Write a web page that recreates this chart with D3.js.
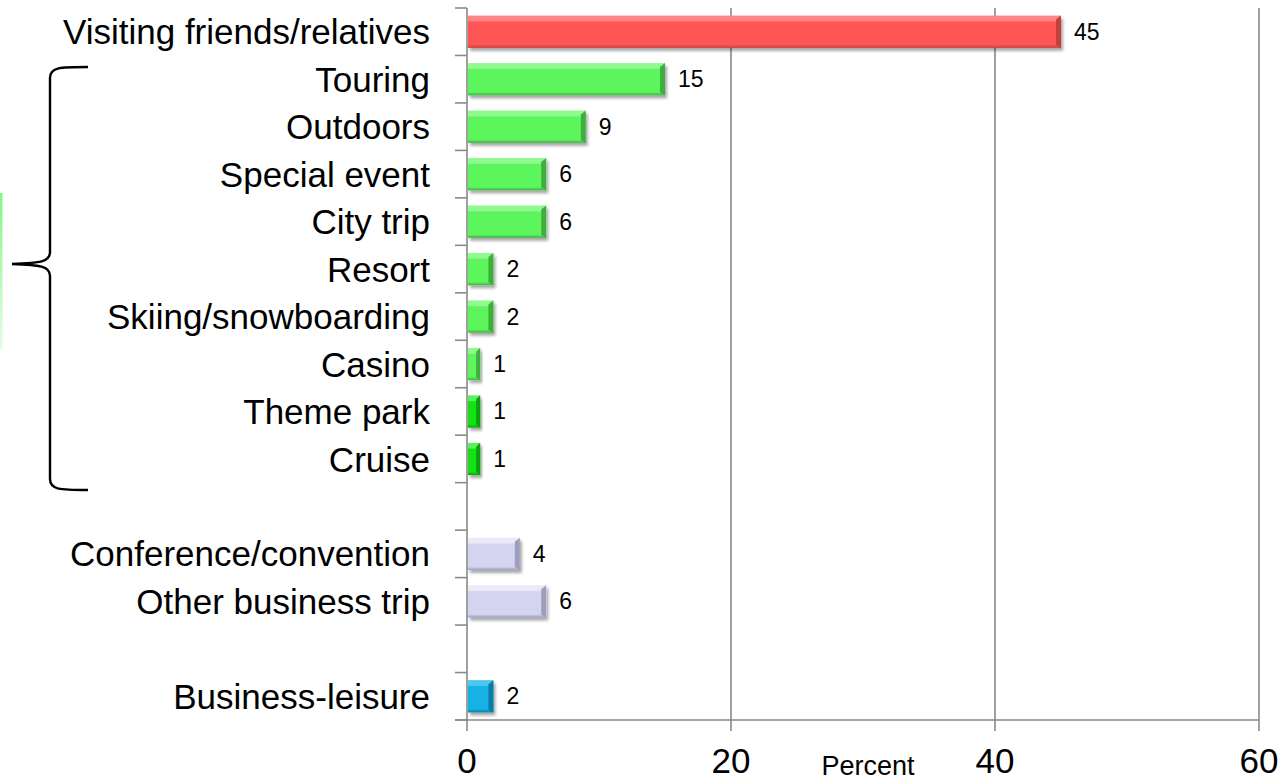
<!DOCTYPE html>
<html>
<head>
<meta charset="utf-8">
<script src="https://cdn.jsdelivr.net/npm/d3@7"></script>
<style>
  html, body { margin: 0; padding: 0; background: #fff; }
  svg { display: block; font-family: "Liberation Sans", Arial, sans-serif; }
</style>
</head>
<body>
<svg id="chart" width="1284" height="781"></svg>
<script>
// Trip purpose shares (percent); empty rows separate the groups
const categories = [
  "Visiting friends/relatives", "Touring", "Outdoors", "Special event", "City trip",
  "Resort", "Skiing/snowboarding", "Casino", "Theme park", "Cruise",
  "", "Conference/convention", "Other business trip", "", "Business-leisure"
];
const values = [45, 15, 9, 6, 6, 2, 2, 1, 1, 1, null, 4, 6, null, 2];
const groups = [
  "vfr", "leisure", "leisure", "leisure", "leisure",
  "leisure", "leisure", "leisure", "leisureBright", "leisureBright",
  null, "business", "business", null, "mixed"
];
const xTicks = [0, 20, 40, 60];
const xTitle = "Percent";

// Fill, top highlight and end-bevel shades for each group
const palette = {
  vfr:           { base: "#ff5555", light: "#ff8686", dark: "#c43e3e" },
  leisure:       { base: "#5cf65c", light: "#8ffa8f", dark: "#3fae3f" },
  leisureBright: { base: "#14e014", light: "#5cf05c", dark: "#0c9e0c" },
  business:      { base: "#d4d4f0", light: "#eaeaf9", dark: "#9d9dbd" },
  mixed:         { base: "#12b2e6", light: "#4cc8f0", dark: "#0b7ca4" }
};

const svg = d3.select("#chart");
const axisColor = "#8a8a8a";

const x = d3.scaleLinear().domain([0, 60]).range([467, 1259]);
const y = d3.scaleBand().domain(d3.range(categories.length)).range([8, 720])
  .paddingInner(0.32).paddingOuter(0.16);
const step = y.step();
const rowTop = i => 8 + i * step;
const rowMid = i => rowTop(i) + step / 2;

const defs = svg.append("defs");
const shadow = defs.append("filter").attr("id", "barShadow")
  .attr("x", "-10%").attr("y", "-30%").attr("width", "130%").attr("height", "180%");
shadow.append("feGaussianBlur").attr("in", "SourceAlpha").attr("stdDeviation", 1.8).attr("result", "b");
shadow.append("feOffset").attr("in", "b").attr("dx", 2).attr("dy", 3).attr("result", "o");
shadow.append("feComponentTransfer").attr("in", "o").attr("result", "s")
  .append("feFuncA").attr("type", "linear").attr("slope", 0.35);
const merge = shadow.append("feMerge");
merge.append("feMergeNode").attr("in", "s");
merge.append("feMergeNode").attr("in", "SourceGraphic");

Object.entries(palette).forEach(([key, c]) => {
  const g = defs.append("linearGradient").attr("id", "grad-" + key)
    .attr("x1", 0).attr("y1", 0).attr("x2", 0).attr("y2", 1);
  g.append("stop").attr("offset", "0%").attr("stop-color", c.light);
  g.append("stop").attr("offset", "16%").attr("stop-color", c.light);
  g.append("stop").attr("offset", "20%").attr("stop-color", c.base);
  g.append("stop").attr("offset", "90%").attr("stop-color", c.base);
  g.append("stop").attr("offset", "100%").attr("stop-color", c.dark);
});

// Green side strip
const strip = defs.append("linearGradient").attr("id", "stripGrad")
  .attr("x1", 0).attr("y1", 0).attr("x2", 0).attr("y2", 1);
strip.append("stop").attr("offset", "0%").attr("stop-color", "#86f586");
strip.append("stop").attr("offset", "100%").attr("stop-color", "#e6fbe6");
svg.append("rect").attr("x", 0).attr("y", 193).attr("width", 2.5).attr("height", 156)
  .attr("fill", "url(#stripGrad)");

// Gridlines and x axis
const grid = svg.append("g");
xTicks.filter(t => t > 0).forEach(t => {
  grid.append("line").attr("x1", x(t)).attr("x2", x(t)).attr("y1", 8).attr("y2", 731)
    .attr("stroke", axisColor).attr("stroke-width", 1.6);
});
grid.append("line").attr("x1", 455).attr("x2", x(60)).attr("y1", 720).attr("y2", 720)
  .attr("stroke", axisColor).attr("stroke-width", 1.6);
grid.append("line").attr("x1", x(0)).attr("x2", x(0)).attr("y1", 8).attr("y2", 731)
  .attr("stroke", axisColor).attr("stroke-width", 1.6);
// Row boundary ticks on the category axis
d3.range(categories.length + 1).forEach(i => {
  grid.append("line").attr("x1", 455).attr("x2", x(0)).attr("y1", rowTop(i)).attr("y2", rowTop(i))
    .attr("stroke", axisColor).attr("stroke-width", 1.6);
});

svg.append("g").selectAll("text").data(xTicks).join("text")
  .attr("x", d => x(d)).attr("y", 773).attr("text-anchor", "middle")
  .attr("font-size", 35).attr("fill", "#000").text(d => d);
svg.append("text").attr("x", 868).attr("y", 775).attr("text-anchor", "middle")
  .attr("font-size", 27).attr("fill", "#000").text(xTitle);

// Bars
const rows = d3.range(categories.length).filter(i => values[i] != null);
const bars = svg.append("g").selectAll("g").data(rows).join("g");
bars.each(function (i) {
  const g = d3.select(this);
  const c = palette[groups[i]];
  const x0 = x(0) + 1, x1 = x(values[i]);
  const top = y(i), h = y.bandwidth();
  const bev = Math.min(5, (x1 - x0) / 3);
  g.append("rect").attr("x", x0).attr("y", top).attr("width", x1 - x0).attr("height", h)
    .attr("fill", "url(#grad-" + groups[i] + ")").attr("filter", "url(#barShadow)");
  g.append("polygon")
    .attr("points", [[x1 - bev, top + 4], [x1, top], [x1, top + h], [x1 - bev, top + h - 3]].join(" "))
    .attr("fill", c.dark);
});

// Value labels
svg.append("g").selectAll("text").data(rows).join("text")
  .attr("x", i => x(values[i]) + 13).attr("y", i => rowMid(i) + 8)
  .attr("font-size", 23).attr("fill", "#000").text(i => values[i]);

// Category labels
svg.append("g").selectAll("text").data(rows).join("text")
  .attr("x", 430).attr("y", i => rowMid(i)).attr("dy", "0.36em")
  .attr("text-anchor", "end").attr("font-size", 35).attr("fill", "#000")
  .text(i => categories[i]);

// Brace spanning the leisure rows
const brace = d3.path();
brace.moveTo(88, 67);
brace.bezierCurveTo(60, 67, 50, 67, 50, 78);
brace.lineTo(50, 252);
brace.bezierCurveTo(50, 262, 40, 263, 12, 264);
brace.bezierCurveTo(40, 265, 50, 266, 50, 276);
brace.lineTo(50, 479);
brace.bezierCurveTo(50, 490, 60, 490, 88, 490);
svg.append("path").attr("d", brace.toString()).attr("fill", "none")
  .attr("stroke", "#000").attr("stroke-width", 2.4);
</script>
</body>
</html>
